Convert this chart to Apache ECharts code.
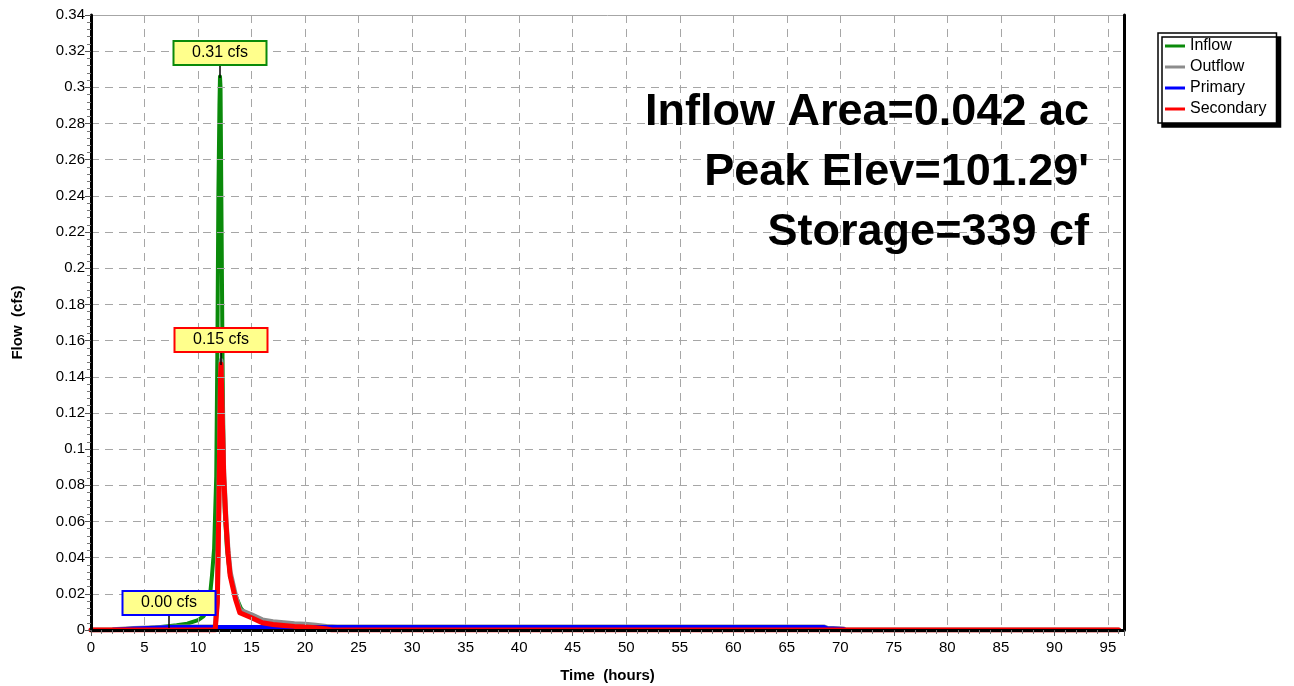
<!DOCTYPE html>
<html><head><meta charset="utf-8">
<script src="https://cdn.jsdelivr.net/npm/echarts@6/dist/echarts.min.js"></script>
<style>html,body{margin:0;padding:0;background:#fff}#c{width:1294px;height:686px}</style>
</head><body><div id="c"></div>
<script>
const inflowT = [0, 2, 3, 4, 5, 6, 7, 8, 9, 10, 10.5, 11, 11.3, 11.5, 11.7, 11.8, 11.9, 12.0, 12.05, 12.1, 12.2, 12.3, 12.4, 12.5, 12.7, 13.0, 13.5, 14, 14.5, 15, 16, 17, 18, 19, 20, 21, 22, 23, 24, 24.5, 96];
const inflowV = [0, 0, 0.0002, 0.0006, 0.001, 0.0014, 0.002, 0.0026, 0.0035, 0.0055, 0.0075, 0.012, 0.03, 0.045, 0.085, 0.15, 0.24, 0.29, 0.306, 0.3, 0.22, 0.14, 0.09, 0.065, 0.045, 0.03, 0.019, 0.012, 0.0085, 0.007, 0.005, 0.0042, 0.0036, 0.003, 0.0026, 0.0022, 0.0018, 0.0014, 0.001, 0, 0];

const outflowT = [0, 2, 4, 6, 8, 11.6, 11.8, 11.95, 12.1, 12.15, 12.25, 12.4, 12.6, 12.8, 13.0, 13.5, 13.9, 14.5, 15, 16, 17, 18, 19, 20, 21, 22, 23, 68.5, 68.8, 70.3, 70.5, 96];
const outflowV = [0, 0.0002, 0.0008, 0.0013, 0.0016, 0.0016, 0.017, 0.072, 0.142, 0.149, 0.122, 0.087, 0.062, 0.044, 0.032, 0.019, 0.011, 0.0096, 0.0084, 0.0056, 0.0046, 0.004, 0.0035, 0.0032, 0.0026, 0.002, 0.0016, 0.0016, 0.0009, 0.0006, 0, 0];

const primaryT = [0, 2, 4, 6, 7.3, 12, 20, 40, 68.5, 68.8, 70.3, 70.5, 96];
const primaryV = [0, 0.0002, 0.0008, 0.0013, 0.0017, 0.0016, 0.0016, 0.0016, 0.0016, 0.0009, 0.0006, 0, 0];

const secondaryT = [0, 11.6, 11.8, 11.95, 12.1, 12.15, 12.25, 12.4, 12.6, 12.8, 13.0, 13.5, 13.9, 14.5, 15, 16, 17, 18, 19, 20, 21, 22, 22.5, 96];
const secondaryV = [0, 0, 0.015, 0.07, 0.14, 0.147, 0.12, 0.085, 0.06, 0.042, 0.03, 0.017, 0.0095, 0.008, 0.0068, 0.004, 0.003, 0.0025, 0.002, 0.0017, 0.0012, 0.0006, 0, 0];

const seriesNames = ['Inflow', 'Outflow', 'Primary', 'Secondary'];
const seriesColors = ['#0a8a0a', '#8c8c8c', '#0000ff', '#ff0000'];
const infoLines = ['Inflow Area=0.042 ac', "Peak Elev=101.29'", 'Storage=339 cf'];
const callouts = [ {series: 0, border: '#0a8a0a'}, {series: 3, border: '#ff0000'}, {series: 2, border: '#0000ff'} ];

const FONT = '"Liberation Sans", Arial, Helvetica, sans-serif';
const zip = (t, v) => t.map((x, i) => [x, v[i]]);
const allT = [inflowT, outflowT, primaryT, secondaryT];
const allV = [inflowV, outflowV, primaryV, secondaryV];
const widths = [4, 5, 4, 5];

const chart = echarts.init(document.getElementById('c'), null, {renderer: 'canvas'});
const XMAX = 96.5, YMAX = 0.34;
const grid = {left: 91, right: 170, top: 15, bottom: 56, containLabel: false, outerBoundsMode: 'none'};
const gridLine = {show: true, lineStyle: {color: '#a6a6a6', width: 1, type: [8, 6]}};
const option = {
  animation: false,
  backgroundColor: '#fff',
  grid: grid,
  legend: {
    orient: 'vertical', left: 1158, top: 33,
    data: seriesNames,
    icon: 'rect', itemWidth: 20, itemHeight: 3, itemGap: 5,
    padding: [5, 10, 6, 7],
    backgroundColor: '#fff', borderColor: '#000', borderWidth: 1.5, borderRadius: 0,
    shadowColor: '#000', shadowOffsetX: 4, shadowOffsetY: 4, shadowBlur: 0,
    textStyle: {fontFamily: FONT, fontSize: 16, color: '#000', lineHeight: 16, padding: [0, 0, 0, 0]},
    selectedMode: false
  },
  xAxis: [{
    type: 'value', min: 0, max: XMAX, interval: 5, z: 10,
    name: 'Time  (hours)', nameLocation: 'middle', nameGap: 38,
    nameTextStyle: {fontFamily: FONT, fontSize: 15, fontWeight: 'bold', color: '#000'},
    axisLine: {onZero: false, lineStyle: {color: '#000', width: 3}},
    axisTick: {show: true, length: 6, lineStyle: {color: '#555', width: 1}},
    minorTick: {show: true, splitNumber: 5, length: 4, lineStyle: {color: '#777', width: 1}},
    axisLabel: {fontFamily: FONT, fontSize: 15, color: '#000', margin: 10, showMaxLabel: false},
    splitLine: gridLine
  }, {
    type: 'value', min: 0, max: XMAX, position: 'top',
    axisLine: {onZero: false, lineStyle: {color: '#a6a6a6', width: 1}},
    axisTick: {show: false}, axisLabel: {show: false}, splitLine: {show: false}
  }],
  yAxis: [{
    type: 'value', min: 0, max: YMAX, interval: 0.02, z: 10,
    name: 'Flow  (cfs)', nameLocation: 'middle', nameGap: 66, nameRotate: 90,
    nameTextStyle: {fontFamily: FONT, fontSize: 15, fontWeight: 'bold', color: '#000'},
    axisLine: {show: true, onZero: false, lineStyle: {color: '#000', width: 3}},
    axisTick: {show: true, length: 6, lineStyle: {color: '#555', width: 1}},
    minorTick: {show: true, splitNumber: 5, length: 4, lineStyle: {color: '#777', width: 1}},
    axisLabel: {fontFamily: FONT, fontSize: 15, color: '#000', margin: 6,
      formatter: v => String(parseFloat(v.toFixed(4)))},
    splitLine: gridLine
  }, {
    type: 'value', min: 0, max: YMAX, position: 'right', z: 10,
    axisLine: {show: true, onZero: false, lineStyle: {color: '#000', width: 3}},
    axisTick: {show: false}, axisLabel: {show: false}, splitLine: {show: false}
  }],
  series: seriesNames.map((n, i) => ({
    name: n, type: 'line', data: zip(allT[i], allV[i]),
    showSymbol: false, symbol: 'none', color: seriesColors[i],
    lineStyle: {width: widths[i], color: seriesColors[i], join: 'round', cap: 'round'},
    z: 2 + i
  })),
  graphic: []
};
chart.setOption(option);

// callouts at each series peak, positioned via the axes
const g = [];
callouts.forEach(c => {
  const v = allV[c.series];
  let k = 0; v.forEach((y, i) => { if (y > v[k]) k = i; });
  const p = chart.convertToPixel({xAxisIndex: 0, yAxisIndex: 0}, [allT[c.series][k], v[k]]);
  const w = 93, h = 24, gap = 12;
  const cx = Math.round(p[0]);
  const by = Math.round(p[1]) - gap;
  g.push({type: 'line', shape: {x1: cx, y1: by, x2: cx, y2: Math.round(p[1]) + 1}, style: {stroke: '#000', lineWidth: 1.5}, z: 100});
  g.push({type: 'rect', shape: {x: cx - w / 2, y: by - h, width: w, height: h},
    style: {fill: '#ffff8c', stroke: c.border, lineWidth: 2}, z: 101});
  g.push({type: 'text', x: cx, y: by - h / 2, style: {text: v[k].toFixed(2) + ' cfs', fill: '#000',
    font: '16px ' + FONT, textAlign: 'center', textVerticalAlign: 'middle'}, z: 102});
});
infoLines.forEach((t, i) => {
  g.push({type: 'text', x: 1089, y: 113 + i * 60, style: {text: t, fill: '#000',
    font: 'bold 45px ' + FONT, textAlign: 'right', textVerticalAlign: 'middle'}, z: 50});
});
chart.setOption({graphic: g});
</script></body></html>
